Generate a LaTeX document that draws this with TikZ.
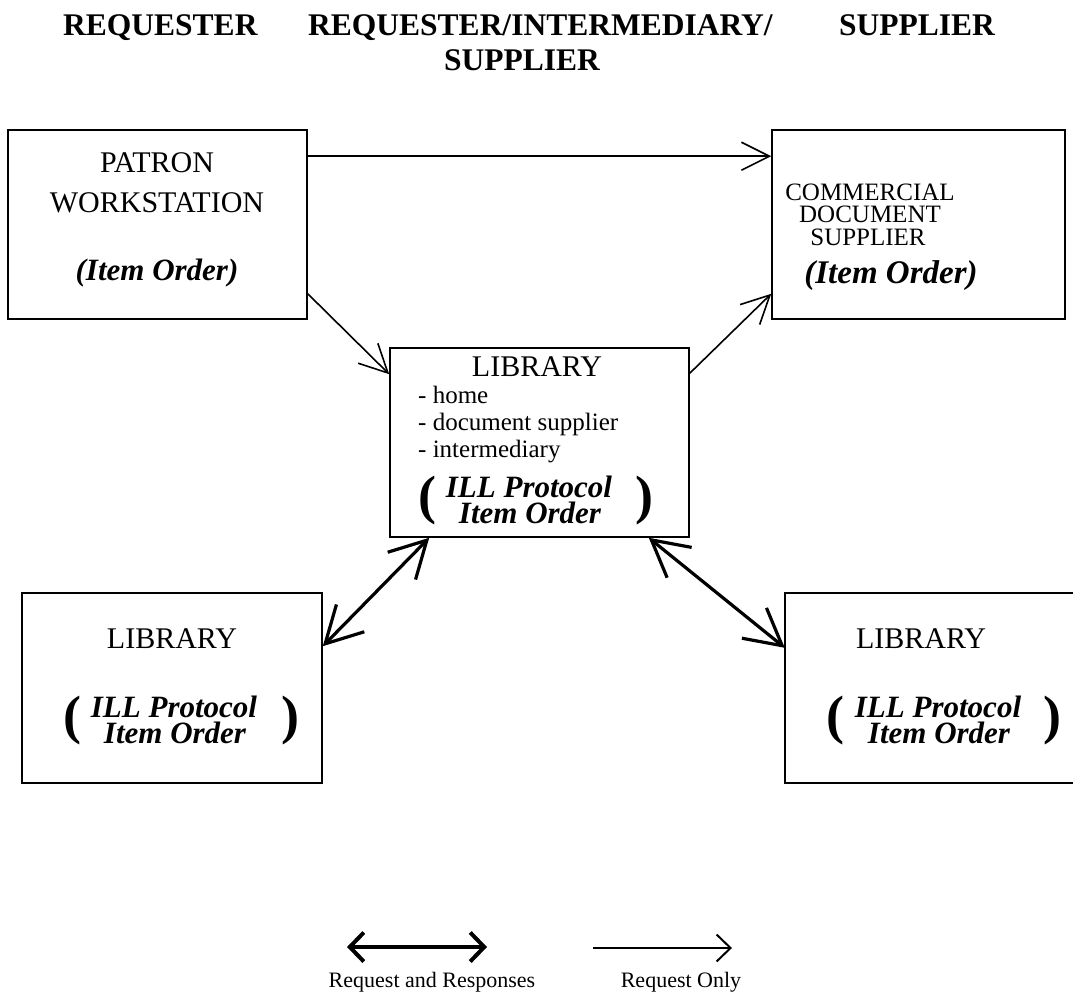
\documentclass[tikz,border=0pt]{standalone}
\usepackage{fontspec}
\setmainfont{Liberation Serif}
\usetikzlibrary{arrows.meta}
\begin{document}
\begin{tikzpicture}[x=1pt,y=-1pt,
  boxnode/.style={draw, line width=1.6pt, rectangle, inner sep=0pt},
  hdr/.style={font=\fontsize{31.5}{35}\selectfont\bfseries, anchor=base west, inner sep=0pt},
  bigtxt/.style={font=\fontsize{30}{36}\selectfont, anchor=base, inner sep=0pt},
  midtxt/.style={font=\fontsize{25}{27}\selectfont, anchor=base, inner sep=0pt},
  bitxt/.style={font=\fontsize{31}{31}\selectfont\bfseries\itshape, anchor=base, inner sep=0pt},
  paren/.style={font=\fontsize{54}{54}\selectfont\bfseries, anchor=base, inner sep=0pt},
  legtxt/.style={font=\fontsize{22}{22}\selectfont, anchor=base, inner sep=0pt},
  reqonly/.style={line width=1.6pt, -{Straight Barb[length=28pt,width=28pt]}},
  reqresp/.style={line width=3.2pt, {Straight Barb[length=36pt,width=39pt]}-{Straight Barb[length=36pt,width=39pt]}},
  legboth/.style={line width=4pt, {Straight Barb[length=14pt,width=29pt]}-{Straight Barb[length=14pt,width=29pt]}},
  legone/.style={line width=2pt, -{Straight Barb[length=14pt,width=27pt]}}
]
\useasboundingbox (0,0) rectangle (1073,996);

% headers
\node[hdr] (h1) at (63,35) {REQUESTER};
\node[hdr] (h2) at (308,35) {REQUESTER/INTERMEDIARY/};
\node[hdr, anchor=base] (h2b) at (522,70) {SUPPLIER};
\node[hdr] (h3) at (839,35) {SUPPLIER};

% boxes
\node[boxnode, minimum width=299pt, minimum height=189pt] (patron) at (157.5,224.5) {};
\node[boxnode, minimum width=293pt, minimum height=189pt] (commercial) at (918.5,224.5) {};
\node[boxnode, minimum width=299pt, minimum height=189pt] (center) at (539.5,442.5) {};
\node[boxnode, minimum width=300pt, minimum height=190pt] (libL) at (172,688) {};
\node[rectangle, inner sep=0pt, minimum width=288pt, minimum height=190pt] (libR) at (929,688) {};
\coordinate (edgeR) at (1073,0);
\draw[line width=1.6pt] (libR.north west -| edgeR) -- (libR.north west) -- (libR.south west) -- (libR.south west -| edgeR);

% patron text
\node[bigtxt] (pt1) at (157,172) {PATRON};
\node[bigtxt] (pt2) at (157,212) {WORKSTATION};
\node[bitxt] (pt3) at (157,280) {(Item Order)};

% commercial text
\node[midtxt] (ct1) at (870,200) {COMMERCIAL};
\node[midtxt] (ct2) at (870,222) {DOCUMENT};
\node[midtxt] (ct3) at (868,245) {SUPPLIER};
\node[bitxt, font=\fontsize{33}{33}\selectfont\bfseries\itshape] (ct4) at (891,283) {(Item Order)};

% center library text
\node[bigtxt] (lt1) at (537,376) {LIBRARY};
\node[midtxt, anchor=base west] (lt2) at (418,403) {- home};
\node[midtxt, anchor=base west] (lt3) at (418,430) {- document supplier};
\node[midtxt, anchor=base west] (lt4) at (418,457) {- intermediary};
\node[bitxt] (lt5) at (529,497) {ILL Protocol};
\node[bitxt] (lt6) at (530,523) {Item Order};
\node[paren] (lp1) at (427,513) {(};
\node[paren] (lp2) at (644,513) {)};

% left library text
\node[bigtxt] (lL1) at (172,648) {LIBRARY};
\node[bitxt] (lL2) at (174,717) {ILL Protocol};
\node[bitxt] (lL3) at (175,743) {Item Order};
\node[paren] (lLp1) at (72.5,733) {(};
\node[paren] (lLp2) at (290.5,733) {)};

% right library text
\node[bigtxt] (lR1) at (921,648) {LIBRARY};
\node[bitxt] (lR2) at (938,717) {ILL Protocol};
\node[bitxt] (lR3) at (939,743) {Item Order};
\node[paren] (lRp1) at (835.5,733) {(};
\node[paren] (lRp2) at (1052.5,733) {)};

% connectors
\draw[reqonly] ([yshift=-27pt]patron.north east) -- ([yshift=-27pt]commercial.north west);
\draw[reqonly] ([yshift=26pt]patron.south east) -- ([yshift=-27pt]center.north west);
\draw[reqonly] ([yshift=-26pt]center.north east) -- ([yshift=26pt]commercial.south west);
\draw[reqresp] ([xshift=40pt]center.south west) -- ([yshift=-54pt]libL.north east);
\draw[reqresp] ([xshift=-41pt]center.south east) -- ([yshift=-55pt]libR.north west);

% legend
\coordinate (lgA1) at (347,947);
\coordinate (lgA2) at (487,947);
\coordinate (lgB1) at (593,948);
\coordinate (lgB2) at (732,948);
\draw[legboth] (lgA1) -- (lgA2);
\draw[legone] (lgB1) -- (lgB2);
\node[legtxt] (lg1) at (432,987) {Request and Responses};
\node[legtxt] (lg2) at (681,987) {Request Only};
\end{tikzpicture}
\end{document}
